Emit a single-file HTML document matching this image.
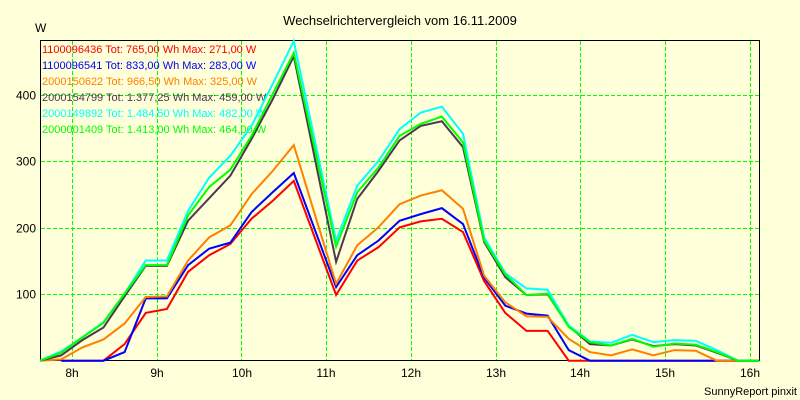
<!DOCTYPE html>
<html>
<head>
<meta charset="utf-8">
<style>
  html, body { margin:0; padding:0; background:#FFFFD9; }
  svg { display:block; }
  text { font-family: "Liberation Sans", Arial, sans-serif; }
</style>
</head>
<body>
<svg width="800" height="400" viewBox="0 0 800 400" xmlns="http://www.w3.org/2000/svg">
  <rect x="0" y="0" width="800" height="400" fill="#FFFFD9"/>

  <!-- title & axis label -->
  <text x="400" y="25" font-size="13" text-anchor="middle" fill="#000">Wechselrichtervergleich vom 16.11.2009</text>
  <text x="35" y="32" font-size="12" fill="#000">W</text>

  <!-- grid -->
  <g stroke="#00FF00" stroke-width="1" stroke-dasharray="4 2" shape-rendering="crispEdges">
    <line x1="72.5" y1="41" x2="72.5" y2="360"/>
    <line x1="157.5" y1="41" x2="157.5" y2="360"/>
    <line x1="241.5" y1="41" x2="241.5" y2="360"/>
    <line x1="326.5" y1="41" x2="326.5" y2="360"/>
    <line x1="411.5" y1="41" x2="411.5" y2="360"/>
    <line x1="496.5" y1="41" x2="496.5" y2="360"/>
    <line x1="580.5" y1="41" x2="580.5" y2="360"/>
    <line x1="665.5" y1="41" x2="665.5" y2="360"/>
    <line x1="750.5" y1="41" x2="750.5" y2="360"/>
    <line x1="41" y1="95.5" x2="759" y2="95.5"/>
    <line x1="41" y1="161.5" x2="759" y2="161.5"/>
    <line x1="41" y1="228.5" x2="759" y2="228.5"/>
    <line x1="41" y1="294.5" x2="759" y2="294.5"/>
  </g>

  <!-- plot frame -->
  <rect x="40.5" y="40.5" width="719" height="320" fill="none" stroke="#000" stroke-width="1" shape-rendering="crispEdges"/>

  <!-- y tick labels -->
  <g font-size="12" text-anchor="end" fill="#000">
    <text x="36" y="99.5">400</text>
    <text x="36" y="165.5">300</text>
    <text x="36" y="232.5">200</text>
    <text x="36" y="298.5">100</text>
  </g>

  <!-- x tick labels -->
  <g font-size="12" text-anchor="middle" fill="#000">
    <text x="72" y="377">8h</text>
    <text x="157" y="377">9h</text>
    <text x="242" y="377">10h</text>
    <text x="326" y="377">11h</text>
    <text x="411" y="377">12h</text>
    <text x="496" y="377">13h</text>
    <text x="580" y="377">14h</text>
    <text x="665" y="377">15h</text>
    <text x="750" y="377">16h</text>
  </g>

  <text x="797" y="395" font-size="11" text-anchor="end" fill="#000">SunnyReport pinxit</text>

  <!-- legend -->
  <g font-size="11">
    <text x="42" y="53" fill="#FF0000">1100096436 Tot: 765,00 Wh Max: 271,00 W</text>
    <text x="42" y="69" fill="#0000FF">1100096541 Tot: 833,00 Wh Max: 283,00 W</text>
    <text x="42" y="85" fill="#FF8000">2000150622 Tot: 966,50 Wh Max: 325,00 W</text>
    <text x="42" y="101" fill="#4B3A4B">2000154799 Tot: 1.377,25 Wh Max: 459,00 W</text>
    <text x="42" y="117" fill="#00FFFF">2000149892 Tot: 1.484,50 Wh Max: 482,00 W</text>
    <text x="42" y="133" fill="#00FF00">2000001409 Tot: 1.413,00 Wh Max: 464,00 W</text>
  </g>

  <!-- series -->
  <g transform="translate(40,360.7) scale(21.15,-0.6633)" fill="none" stroke-width="2" stroke-linejoin="miter">
    <polyline vector-effect="non-scaling-stroke" stroke="#FF0000"
      points="1,0 2,0 3,0 4,25 5,72 6,78 7,134 8,159 9,176 10,214 11,241 12,271 13,185 14,99 15,151 16,171 17,201 18,210 19,214 20,194 21,120 22,72 23,45 24,45 25,0 26,0 27,0 28,0 29,0 30,0 31,0 32,0 33,0 34,0"/>
    <polyline vector-effect="non-scaling-stroke" stroke="#0000FF"
      points="1,0 2,0 3,0 4,13 5,94 6,94 7,144 8,169 9,178 10,224 11,254 12,283 13,197 14,111 15,159 16,181 17,211 18,221 19,230 20,206 21,125 22,83 23,71 24,68 25,16 26,0 27,0 28,0 29,0 30,0 31,0 32,0 33,0 34,0"/>
    <polyline vector-effect="non-scaling-stroke" stroke="#FF8000"
      points="0,0 1,2 2,20 3,32 4,56 5,96 6,97 7,151 8,186 9,204 10,251 11,286 12,325 13,220 14,116 15,174 16,201 17,236 18,249 19,257 20,229 21,128 22,88 23,67 24,66 25,33 26,13 27,8 28,17 29,8 30,16 31,15 32,0 33,0 34,0"/>
    <polyline vector-effect="non-scaling-stroke" stroke="#4B3A4B"
      points="0,0 1,8 2,31 3,50 4,97 5,143 6,143 7,211 8,245 9,279 10,334 11,394 12,459 13,304 14,149 15,244 16,286 17,332 18,354 19,361 20,322 21,179 22,126 23,99 24,100 25,52 26,25 27,23 28,32 29,22 30,25 31,23 32,12 33,0 34,0"/>
    <polyline vector-effect="non-scaling-stroke" stroke="#00FFFF"
      points="0,0 1,14 2,35 3,58 4,101 5,151 6,151 7,226 8,276 9,309 10,354 11,417 12,482 13,331 14,181 15,264 16,301 17,349 18,374 19,383 20,342 21,186 22,132 23,109 24,107 25,53 26,29 27,27 28,39 29,28 30,31 31,30 32,16 33,0 34,0"/>
    <polyline vector-effect="non-scaling-stroke" stroke="#00FF00"
      points="0,0 1,12 2,35 3,57 4,101 5,144 6,144 7,219 8,262 9,288 10,339 11,402 12,464 13,318 14,172 15,254 16,291 17,339 18,357 19,368 20,329 21,181 22,130 23,99 24,101 25,51 26,28 27,23 28,33 29,21 30,26 31,24 32,13 33,0 34,0"/>
  </g>
</svg>
</body>
</html>
